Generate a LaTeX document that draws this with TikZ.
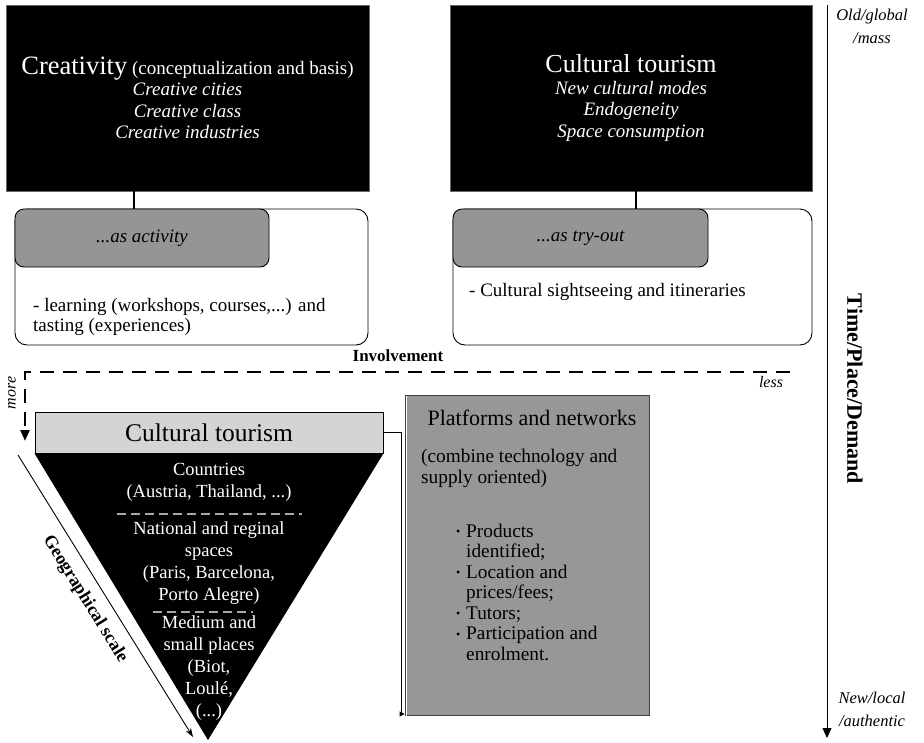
\documentclass[tikz,border=0pt]{standalone}
\usepackage{fontspec}
\setmainfont{Liberation Serif}
\usetikzlibrary{arrows.meta}
\definecolor{tabg}{HTML}{959595}
\definecolor{barg}{HTML}{D4D4D4}
\definecolor{platg}{HTML}{979797}
\definecolor{sepg}{HTML}{A8A8A8}
\newcommand\fs[2]{\fontsize{#1}{#2}\selectfont}
\newcommand\bul{\makebox[10pt][l]{\fs{12}{12}\raisebox{0.12em}{\textbullet}}}
\newcommand\nob{\makebox[10pt][l]{}}
\begin{document}
\begin{tikzpicture}[x=1pt,y=-1pt,
  blackbox/.style={draw=black!60, fill=black, text=white, align=center, font=\fs{19}{21.5}},
  roundbox/.style={draw, line width=0.9pt, fill=white, rounded corners=12pt},
  tabbox/.style={draw, line width=0.9pt, fill=tabg, rounded corners=9pt, font=\fs{19}{20}\itshape},
  plain/.style={inner sep=0pt, font=\fs{19}{20}},
  tri/.style={inner sep=0pt, text=white, align=center, font=\fs{18.5}{22}},
  sep/.style={draw=sepg, line width=1.3pt, dash pattern=on 9pt off 5pt},
  conn/.style={line width=1.6pt},
  thin/.style={line width=0.9pt}
]
\useasboundingbox (0,0) rectangle (924,742);

% top boxes
\node[blackbox, minimum width=363pt, minimum height=186pt] (crea) at (187.5,98)
 {{\fs{26.5}{27}Creativity} (conceptualization and basis)\\ \textit{Creative cities}\\ \textit{Creative class}\\ \textit{Creative industries}};
\node[blackbox, minimum width=362pt, minimum height=186pt] (ctop) at (631,98)
 {{\fs{26}{27}Cultural tourism}\\ \textit{New cultural modes}\\ \textit{Endogeneity}\\ \textit{Space consumption}};

% rounded boxes
\node[roundbox, minimum width=353pt, minimum height=136pt] (act) at (191.5,277) {};
\node[tabbox, minimum width=254pt, minimum height=58pt] (acttab) at (142,238) {...as activity};
\node[plain, anchor=west, align=left] (acttxt) at (33,317) {- learning (workshops, courses,...) and\\ tasting (experiences)};

\node[roundbox, minimum width=359pt, minimum height=136pt] (try) at (632.5,277) {};
\node[tabbox, minimum width=255pt, minimum height=58pt] (trytab) at (580.5,238) {...as try-out};
\node[plain, anchor=west] (trytxt) at (469,292) {- Cultural sightseeing and itineraries};

\coordinate (c1) at (134,0);
\coordinate (c2) at (636,0);
\draw[conn] (crea.south -| c1) -- (acttab.north -| c1);
\draw[conn] (ctop.south -| c2) -- (trytab.north -| c2);

% involvement
\node[plain, font=\fs{17}{20}\bfseries] (inv) at (398,356) {Involvement};
\coordinate (dR) at (790,372);
\coordinate (dL) at (25,372);
\coordinate (dB) at (25,441);
\draw[line width=2.4pt, dash pattern=on 14pt off 9pt, -{Triangle[length=11pt,width=9pt]}] (dR) -- (dL) -- (dB);
\node[plain, rotate=90, font=\fs{16}{18}\itshape] (more) at (12,393) {more};
\node[plain, font=\fs{16}{18}\itshape] (less) at (771,382) {less};

% bar and triangle
\node[draw, line width=0.9pt, fill=barg, minimum width=348pt, minimum height=41pt, font=\fs{25.5}{26}] (bar) at (209,432.5) {Cultural tourism};
\coordinate (apex) at (208,740);
\fill (bar.south west) -- (bar.south east) -- (apex) -- cycle;

\node[tri] (g1) at (209,482) {Countries\\ (Austria, Thailand, ...)};
\coordinate (s1a) at (117,514); \coordinate (s1b) at (302,514);
\draw[sep] (s1a) -- (s1b);
\node[tri] (g2) at (209,563) {National and reginal\\ spaces\\ (Paris, Barcelona,\\ Porto Alegre)};
\coordinate (s2a) at (153,612); \coordinate (s2b) at (253,612);
\draw[sep] (s2a) -- (s2b);
\node[tri] (g3) at (209,668) {Medium and\\ small places\\ (Biot,\\ Loulé,\\ (...)};

% geographical scale
\coordinate (gA) at (18,455);
\coordinate (gB) at (193,737);
\draw[thin, -{Stealth[length=9pt,width=6pt]}] (gA) -- (gB);
\node[plain, rotate=-58.2, font=\fs{18}{20}\bfseries] (geo) at (85,599) {Geographical scale};

% platforms
\node[draw=black!75, line width=0.9pt, fill=platg, minimum width=244pt, minimum height=320pt] (plat) at (527,555) {};
\draw[white, line width=0.8pt] ([shift={(2,1)}]plat.north west) -- ([shift={(2,2)}]plat.south west) -- ([shift={(-1,2)}]plat.south east);
\node[plain, font=\fs{22}{24}] (ptitle) at (532,418) {Platforms and networks};
\node[plain, anchor=west, align=left, font=\fs{19.3}{21}] (pdesc) at (421,468) {(combine technology and\\ supply oriented)};
\node[plain, anchor=west, align=left, font=\fs{19.3}{20.5}] (plist) at (456,592)
 {\bul Products\\ \nob identified;\\ \bul Location and\\ \nob prices/fees;\\ \bul Tutors;\\ \bul Participation and\\ \nob enrolment.};

\coordinate (k1) at (401,714);
\draw[thin, -{Triangle[length=5pt,width=5pt]}] (bar.east) -| (k1) -- (plat.west |- k1);

% time axis
\coordinate (tA) at (827,5);
\coordinate (tB) at (827,738);
\draw[thin, -{Triangle[length=10pt,width=9pt]}] (tA) -- (tB);
\node[plain, align=center, font=\fs{16.5}{23}\itshape] (old) at (872,26) {Old/global\\ /mass};
\node[plain, align=center, font=\fs{16.5}{23}\itshape] (new) at (872,709) {New/local\\ /authentic};
\node[plain, rotate=-90, font=\fs{22}{22}\bfseries] (tpd) at (855,389) {Time/Place/Demand};
\end{tikzpicture}
\end{document}
